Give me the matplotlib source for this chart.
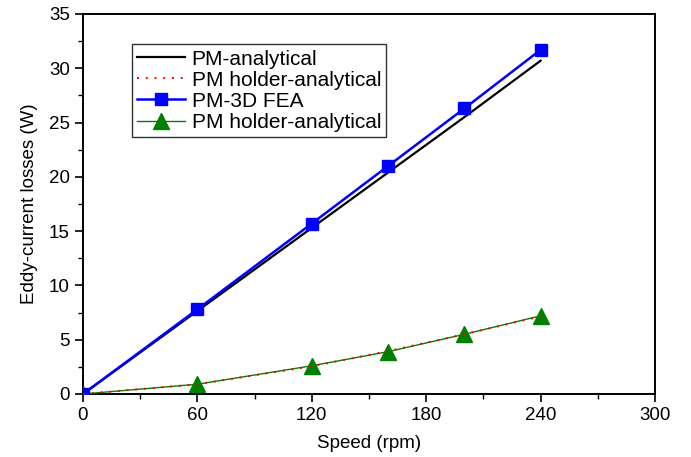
import matplotlib.pyplot as plt
from matplotlib.ticker import MultipleLocator

plt.rcParams['font.family'] = ['Liberation Sans', 'DejaVu Sans']

speed = [0, 60, 120, 160, 200, 240]
pm_analytical = [0, 7.65, 15.3, 20.4, 25.5, 30.7]
holder_analytical = [0, 0.9, 2.55, 3.95, 5.5, 7.15]
pm_fea = [0, 7.8, 15.7, 21.0, 26.3, 31.7]
holder_fea = [0, 0.9, 2.6, 3.9, 5.5, 7.2]

fig = plt.figure(figsize=(6.91, 4.57), dpi=100)
ax = fig.add_axes([83 / 691, 63 / 457, 572 / 691, 380 / 457])

ax.plot(speed, pm_analytical, color='black', lw=1.6, label='PM-analytical')
ax.plot(speed, holder_fea, color='green', lw=1.0, marker='^', markersize=11,
        label='PM holder-analytical', zorder=3)
ax.plot(speed, holder_analytical, color='red', lw=1.4, ls=(0, (1, 3.5)),
        label='PM holder-analytical', zorder=4)
ax.plot(speed, pm_fea, color='blue', lw=1.8, marker='s', markersize=9,
        label='PM-3D FEA', zorder=3)

handles, labels = ax.get_legend_handles_labels()
order = [0, 2, 3, 1]
leg = ax.legend([handles[i] for i in order], [labels[i] for i in order],
                loc='upper left', bbox_to_anchor=(0.086, 0.92), fontsize=15,
                frameon=True, fancybox=False, edgecolor='black',
                handlelength=2.3, handletextpad=0.3, labelspacing=0.1,
                borderpad=0.25, borderaxespad=0)
leg.get_frame().set_linewidth(1.0)

ax.set_xlim(0, 300)
ax.set_ylim(0, 35)
ax.xaxis.set_major_locator(MultipleLocator(60))
ax.xaxis.set_minor_locator(MultipleLocator(30))
ax.yaxis.set_major_locator(MultipleLocator(5))
ax.yaxis.set_minor_locator(MultipleLocator(2.5))
ax.tick_params(which='major', direction='out', length=6, width=1.2, labelsize=13.5)
ax.tick_params(which='minor', direction='out', length=3.5, width=1.0)
for s in ax.spines.values():
    s.set_linewidth(1.4)

ax.set_xlabel('Speed (rpm)', fontsize=13.5, labelpad=8)
ax.set_ylabel('Eddy-current losses (W)', fontsize=13.5, labelpad=8)

fig.savefig('out.png', dpi=100)
